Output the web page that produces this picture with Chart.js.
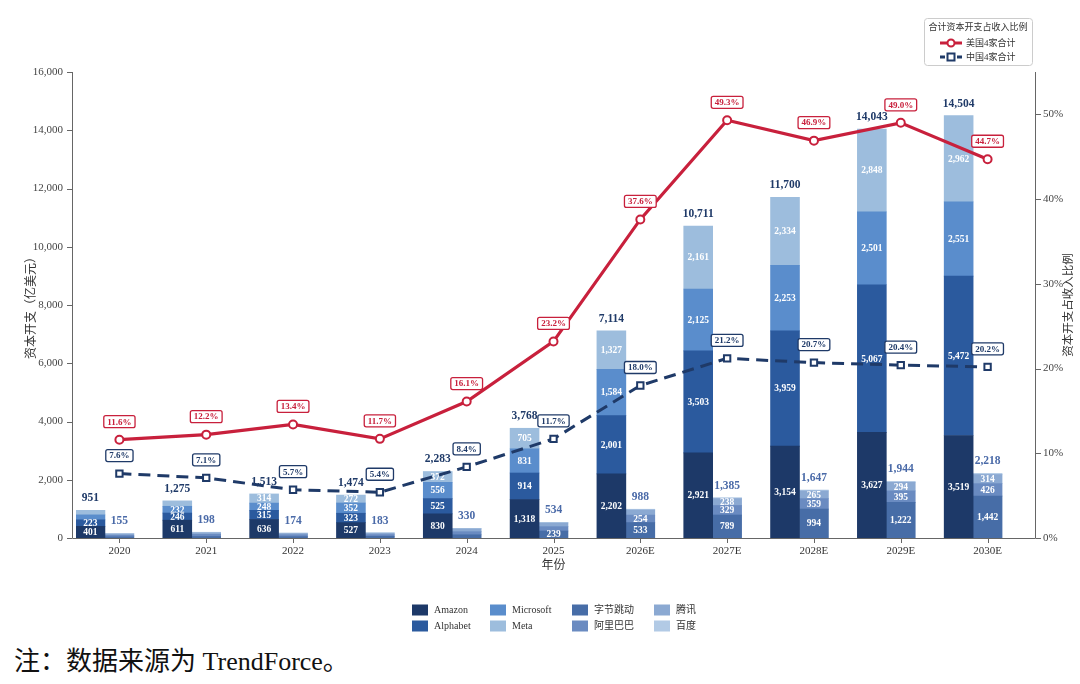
<!DOCTYPE html>
<html><head><meta charset="utf-8">
<script src="https://cdn.jsdelivr.net/npm/chart.js@4.4.1/dist/chart.umd.min.js"></script>
<style>
html,body{margin:0;padding:0;background:#fff;}
#wrap{position:relative;width:1080px;height:684px;overflow:hidden;}
#c{position:absolute;left:0;top:0;}
#note{position:absolute;left:14px;top:645px;font-family:'Liberation Serif','Noto Sans CJK SC',serif;font-size:26px;color:#111;line-height:34px;white-space:nowrap;}
</style></head><body>
<div id="wrap"><canvas id="c" width="1080" height="645"></canvas><div id="note">注：数据来源为 TrendForce。</div></div>
<script>
// ---- data ----
const years = ['2020','2021','2022','2023','2024','2025','2026E','2027E','2028E','2029E','2030E'];
const amazon    = [401, 611, 636, 527, 830, 1318, 2202, 2921, 3154, 3627, 3519];
const alphabet  = [223, 246, 315, 323, 525, 914, 2001, 3503, 3959, 5067, 5472];
const microsoft = [170, 232, 248, 352, 556, 831, 1584, 2125, 2253, 2501, 2551];
const meta      = [157, 186, 314, 272, 372, 705, 1327, 2161, 2334, 2848, 2962];
const bytedance = [40, 55, 50, 60, 110, 239, 533, 789, 994, 1222, 1442];
const alibaba   = [55, 70, 60, 55, 107, 150, 254, 329, 359, 395, 426];
const tencent   = [45, 55, 45, 52, 100, 130, 175, 238, 265, 294, 314];
const baidu     = [15, 18, 19, 16, 13, 15, 26, 29, 29, 33, 36];
const usTotals  = [951, 1275, 1513, 1474, 2283, 3768, 7114, 10711, 11700, 14043, 14504];
const cnTotals  = [155, 198, 174, 183, 330, 534, 988, 1385, 1647, 1944, 2218];
const usRatio = [11.6, 12.2, 13.4, 11.7, 16.1, 23.2, 37.6, 49.3, 46.9, 49.0, 44.7];
const cnRatio = [7.6, 7.1, 5.7, 5.4, 8.4, 11.7, 18.0, 21.2, 20.7, 20.4, 20.2];
const usNames = ['Amazon','Alphabet','Microsoft','Meta'];
const cnNames = ['字节跳动','阿里巴巴','腾讯','百度'];
const lineNames = ['美国4家合计','中国4家合计'];
const lineLegendTitle = '合计资本开支占收入比例';
const yTitleLeft = '资本开支（亿美元）';
const yTitleRight = '资本开支占收入比例';
const xTitle = '年份';

// ---- styles ----
const SERIF = "'Liberation Serif','Noto Sans CJK SC',serif";
const usColors = ['#1d3968','#2b5a9e','#5a8dcc','#9dbddd'];
const cnColors = ['#476da7','#6a8bc1','#8ba9d2','#b2cae5'];
const RED = '#c8203c', NAVY = '#1f3a68';
const AX = '#666';

const usData = [amazon, alphabet, microsoft, meta];
const cnData = [bytedance, alibaba, tencent, baidu];
const fmt = v => v.toLocaleString('en-US');

const datasets = [];
usData.forEach((d,k)=>datasets.push({type:'bar',label:usNames[k],data:d,backgroundColor:usColors[k],stack:'us',yAxisID:'y',order:1,grp:'us'}));
cnData.forEach((d,k)=>datasets.push({type:'bar',label:cnNames[k],data:d,backgroundColor:cnColors[k],stack:'cn',yAxisID:'y',order:1,grp:'cn'}));
datasets.push({type:'bar',label:'',data:years.map(()=>null),stack:'pad',yAxisID:'y',order:1,grp:'pad'});
datasets.push({type:'line',label:lineNames[0],data:usRatio,yAxisID:'y1',order:0,borderColor:RED,borderWidth:3.2,
  pointRadius:4,pointBackgroundColor:'#fff',pointBorderColor:RED,pointBorderWidth:2,tension:0,grp:'line',boxColor:RED});
datasets.push({type:'line',label:lineNames[1],data:cnRatio,yAxisID:'y1',order:0,borderColor:NAVY,borderWidth:3,borderDash:[12,7],
  pointStyle:'rect',pointRadius:4.5,pointBackgroundColor:'#fff',pointBorderColor:NAVY,pointBorderWidth:2,tension:0,grp:'line',boxColor:NAVY});

function rrect(ctx,x,y,w,h,r){
  ctx.beginPath();ctx.moveTo(x+r,y);ctx.lineTo(x+w-r,y);ctx.quadraticCurveTo(x+w,y,x+w,y+r);
  ctx.lineTo(x+w,y+h-r);ctx.quadraticCurveTo(x+w,y+h,x+w-r,y+h);ctx.lineTo(x+r,y+h);
  ctx.quadraticCurveTo(x,y+h,x,y+h-r);ctx.lineTo(x,y+r);ctx.quadraticCurveTo(x,y,x+r,y);ctx.closePath();
}

const deco = {
  id:'deco',
  afterDatasetDraw(chart,args){
    const ds = chart.data.datasets[args.index];
    if (ds.type!=='bar' || ds.grp==='pad') return;
    const ctx = chart.ctx;
    ctx.save();
    ctx.font = 'bold 9.5px '+SERIF; ctx.fillStyle='#fff'; ctx.textAlign='center'; ctx.textBaseline='middle';
    args.meta.data.forEach((el,i)=>{
      const v = ds.data[i];
      if (v>=200){ const p = el.getProps(['x','y','base'],true); ctx.fillText(fmt(v), p.x, (p.y+p.base)/2+0.5); }
    });
    if (args.index===0){
      const ys = chart.scales.y;
      ctx.font = 'bold 11.5px '+SERIF;
      const usMeta = chart.getDatasetMeta(0), cnMeta = chart.getDatasetMeta(4);
      years.forEach((_,i)=>{
        const ut = usTotals[i], ct = cnTotals[i];
        ctx.fillStyle = NAVY; ctx.fillText(fmt(ut), usMeta.data[i].x, ys.getPixelForValue(ut)-12);
        ctx.fillStyle = '#4a6aa8'; ctx.fillText(fmt(ct), cnMeta.data[i].x, ys.getPixelForValue(ct)-12);
      });
    }
    ctx.restore();
  },
  afterDatasetsDraw(chart){
    const ctx = chart.ctx, ca = chart.chartArea;
    const ys = chart.scales.y, y1 = chart.scales.y1, xs = chart.scales.x;
    ctx.save();
    // axes
    const L = ca.left-4, R = ca.right+4, B = ca.bottom;
    ctx.strokeStyle = AX; ctx.lineWidth = 1;
    ctx.beginPath();
    ctx.moveTo(L+0.5, ca.top); ctx.lineTo(L+0.5, B+0.5); ctx.lineTo(R+0.5, B+0.5); ctx.lineTo(R+0.5, ca.top);
    ys.ticks.forEach(t=>{const y=Math.round(ys.getPixelForValue(t.value))+0.5; ctx.moveTo(L-5,y); ctx.lineTo(L,y);});
    y1.ticks.forEach(t=>{const y=Math.round(y1.getPixelForValue(t.value))+0.5; ctx.moveTo(R+1,y); ctx.lineTo(R+6,y);});
    years.forEach((_,i)=>{const x=Math.round(xs.getPixelForValue(i))+0.5; ctx.moveTo(x,B+1); ctx.lineTo(x,B+5);});
    ctx.stroke();
    // line value boxes
    ctx.font = 'bold 9px '+SERIF; ctx.textAlign='center'; ctx.textBaseline='middle';
    chart.data.datasets.forEach((ds,di)=>{
      if (ds.type!=='line') return;
      chart.getDatasetMeta(di).data.forEach((el,i)=>{
        const txt = ds.data[i].toFixed(1)+'%';
        const w = ctx.measureText(txt).width+7, h = 12;
        const cx = el.x, cy = el.y-18;
        rrect(ctx, cx-w/2, cy-h/2, w, h, 2);
        ctx.fillStyle='#fff'; ctx.fill(); ctx.lineWidth=1.3; ctx.strokeStyle=ds.boxColor; ctx.stroke();
        ctx.fillStyle=ds.boxColor; ctx.fillText(txt, cx, cy+0.5);
      });
    });
    // right axis title
    ctx.save(); ctx.translate(1069, (ca.top+ca.bottom)/2); ctx.rotate(-Math.PI/2);
    ctx.font = '11.5px '+SERIF; ctx.fillStyle='#333'; ctx.fillText(yTitleRight,0,0); ctx.restore();
    // bar legend
    const cols = [412, 490, 572, 654], rows = [610, 626];
    const items = [];
    usNames.forEach((n,k)=>items.push([n,usColors[k]]));
    cnNames.forEach((n,k)=>items.push([n,cnColors[k]]));
    ctx.font = '10px '+SERIF; ctx.textAlign='left';
    items.forEach((it,k)=>{
      const cx = cols[Math.floor(k/2)], cy = rows[k%2];
      ctx.fillStyle = it[1]; ctx.fillRect(cx, cy-5.5, 16, 11);
      ctx.fillStyle = '#333'; ctx.fillText(it[0], cx+22, cy+0.5);
    });
    // line legend
    rrect(ctx, 924.5, 18.5, 108, 47, 3); ctx.fillStyle='#fff'; ctx.fill(); ctx.strokeStyle='#ccc'; ctx.lineWidth=1; ctx.stroke();
    ctx.font = '9px '+SERIF; ctx.fillStyle='#333'; ctx.textAlign='center';
    ctx.fillText(lineLegendTitle, 978, 28);
    ctx.textAlign='left';
    ctx.strokeStyle=RED; ctx.lineWidth=3; ctx.beginPath(); ctx.moveTo(940,43); ctx.lineTo(962,43); ctx.stroke();
    ctx.beginPath(); ctx.arc(951,43,3.5,0,Math.PI*2); ctx.fillStyle='#fff'; ctx.fill(); ctx.lineWidth=2; ctx.stroke();
    ctx.fillStyle='#333'; ctx.fillText(lineNames[0], 966, 43.5);
    ctx.strokeStyle=NAVY; ctx.lineWidth=3; ctx.beginPath(); ctx.moveTo(940,57); ctx.lineTo(945,57); ctx.moveTo(957,57); ctx.lineTo(962,57); ctx.stroke();
    ctx.fillStyle='#fff'; ctx.fillRect(947.5,53.5,7,7); ctx.lineWidth=2; ctx.strokeRect(947.5,53.5,7,7);
    ctx.fillStyle='#333'; ctx.fillText(lineNames[1], 966, 57.5);
    ctx.restore();
  }
};

new Chart(document.getElementById('c'), {
  data:{labels:years, datasets},
  options:{
    responsive:false, animation:false, devicePixelRatio:1,
    layout:{padding:{top:72,left:0,right:0,bottom:72}},
    datasets:{bar:{categoryPercentage:1.0,barPercentage:1.0,borderWidth:0}},
    plugins:{legend:{display:false},tooltip:{enabled:false}},
    scales:{
      x:{type:'category',stacked:true,offset:true,
        grid:{display:false,drawTicks:false},border:{display:false},
        ticks:{font:{family:SERIF,size:11},color:'#333',padding:7,maxRotation:0},
        title:{display:true,text:xTitle,font:{family:SERIF,size:12},color:'#333',padding:{top:0,bottom:0}},
        afterFit(s){s.height=35;}},
      y:{position:'left',stacked:true,min:0,max:16000,
        grid:{display:false,drawTicks:false},border:{display:false},
        ticks:{stepSize:2000,font:{family:SERIF,size:11},color:'#444',padding:13,callback:v=>fmt(v)},
        title:{display:true,text:yTitleLeft,font:{family:SERIF,size:12},color:'#333',padding:{top:25,bottom:0}},
        afterFit(s){s.width=76;}},
      y1:{position:'right',stacked:false,min:0,max:55,
        grid:{display:false,drawTicks:false},border:{display:false},
        ticks:{stepSize:10,includeBounds:false,font:{family:SERIF,size:11},color:'#444',padding:12,callback:v=>v+'%'},
        afterFit(s){s.width=49;}}
    }
  },
  plugins:[deco]
});
</script>
</body></html>
